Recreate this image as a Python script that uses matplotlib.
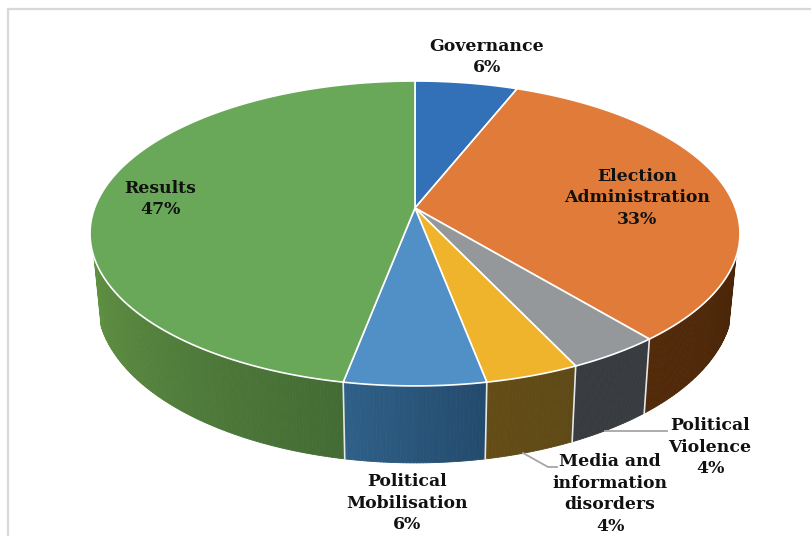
# plot.py - pie with perspective and side wall, drawn by hand from the shares below

import numpy as np
import matplotlib.pyplot as plt
from matplotlib.collections import PolyCollection
from matplotlib.colors import to_rgb

# shares, clockwise from the top
labels = ["Governance", "Election\nAdministration", "Political\nViolence",
          "Media and\ninformation\ndisorders", "Political\nMobilisation", "Results"]
shares = [6, 33, 4, 4, 6, 47]

top_colors = ["#3270B8", "#E07B3A", "#94989A", "#EFB42C", "#5090C6", "#69A858"]
wall_start = ["#2A5488", "#4A2608", "#383C40", "#5E4A18", "#234A6C", "#436B34"]
wall_end = ["#2A5488", "#522A0A", "#383C40", "#644C16", "#2F6088", "#5F9042"]

# label centres in pixels
label_x = [487, 637, 710, 610, 407, 160]
label_y = [57, 198, 447, 494, 503, 199]

# projection of the pie disc onto the figure
CX, CY = 415, 208
R, S, K = 320.4, 148.2, 0.167
ELL_Y = 233
WALL_SX, WALL_Y, WALL_SY = 0.978, 300.5, 1.062
WALL_VIEW = 108.3  # degrees from top where the wall comes into sight


def top_ring(deg):
    t = np.radians(deg)
    w = 1 + K * np.cos(t)
    return CX + R * np.sin(t) / w, CY - S * np.cos(t) / w


def bottom_ring(deg):
    x, y = top_ring(deg)
    return CX + (x - CX) * WALL_SX, WALL_Y + (y - ELL_Y) * WALL_SY


fig = plt.figure(figsize=(8.12, 5.36), dpi=100)
ax = fig.add_axes([0, 0, 1, 1])
ax.set_xlim(0, 812)
ax.set_ylim(536, 0)
ax.axis("off")

# thin frame around the chart area
ax.plot([8, 8, 812], [536, 9, 9], color="#D8D8D8", lw=1.6, zorder=1)

edges = np.cumsum([0] + shares) / sum(shares) * 360

# side wall, one short strip after another for the shading
for i in range(len(shares)):
    a = max(edges[i], WALL_VIEW)
    b = min(edges[i + 1], 360 - WALL_VIEW)
    if b <= a:
        continue
    steps = np.linspace(a, b, max(int((b - a) * 2), 2) + 1)
    x0, y0 = top_ring(steps)
    x1, y1 = bottom_ring(steps)
    quads, cols = [], []
    c_from, c_to = np.array(to_rgb(wall_start[i])), np.array(to_rgb(wall_end[i]))
    for j in range(len(steps) - 1):
        quads.append([(x0[j], y0[j]), (x0[j + 1], y0[j + 1]),
                      (x1[j + 1], y1[j + 1]), (x1[j], y1[j])])
        f = (j + 0.5) / (len(steps) - 1)
        cols.append(c_from * (1 - f) + c_to * f)
    ax.add_collection(PolyCollection(quads, facecolors=cols, edgecolors=cols,
                                     linewidths=0.6, zorder=2))

# white seams between the wall pieces
for deg in edges:
    if WALL_VIEW < deg < 360 - WALL_VIEW:
        x0, y0 = top_ring(deg)
        x1, y1 = bottom_ring(deg)
        ax.plot([x0, x1], [y0, y1], color="#E4E8E8", lw=1.2, zorder=3)

# top face
for i in range(len(shares)):
    t = np.linspace(edges[i], edges[i + 1], 200)
    x, y = top_ring(t)
    ax.fill(np.r_[CX, x], np.r_[CY, y], facecolor=top_colors[i],
            edgecolor="white", lw=1.2, joinstyle="round", zorder=4)

# leader lines for the two small slices
ax.plot([523, 548, 557], [453, 467, 467], color="#A6A6A6", lw=1.3, zorder=3)
ax.plot([605, 667], [431, 431], color="#A6A6A6", lw=1.3, zorder=3)

for name, share, x, y in zip(labels, shares, label_x, label_y):
    ax.text(x, y, f"{name}\n{share}%", ha="center", va="center", color="#111111",
            family="DejaVu Serif", fontweight="bold", fontsize=12.4,
            linespacing=1.38, zorder=6)

fig.savefig("out.png", dpi=100)
